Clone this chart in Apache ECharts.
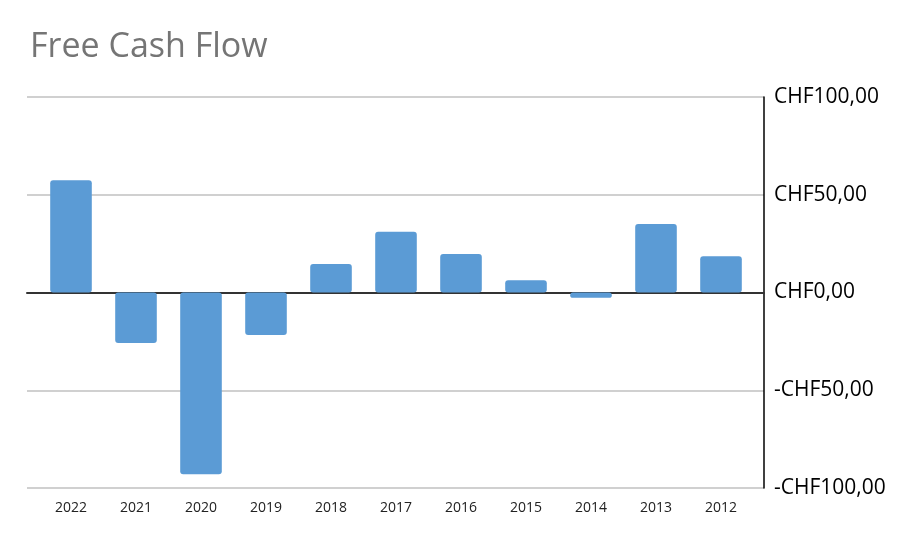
<!DOCTYPE html>
<html>
<head>
<meta charset="utf-8">
<script src="https://cdn.jsdelivr.net/npm/echarts@6/dist/echarts.min.js"></script>
<style>html,body{margin:0;padding:0;background:#fff}#c{width:916px;height:544px}</style>
</head>
<body>
<div id="c"></div>
<script>
const categories = ['2022','2021','2020','2019','2018','2017','2016','2015','2014','2013','2012'];
const freeCashFlow = [57.4, -25.8, -93.0, -21.7, 14.6, 31.1, 19.7, 6.3, -2.7, 35.0, 18.5];
const yTicks = [-100, -50, 0, 50, 100];
const titleText = 'Free Cash Flow';

function fmt(v){
  return (v < 0 ? '-' : '') + 'CHF' + Math.abs(v).toFixed(2).replace('.', ',');
}

const chart = echarts.init(document.getElementById('c'), null, {renderer:'canvas'});
chart.setOption({
  animation:false,
  backgroundColor:'#fff',
  title:{
    text:titleText, left:25, top:25,
    textStyle:{fontFamily:'Open Sans', fontSize:34, fontWeight:'normal', color:'#757575'}
  },
  grid:[
    {left:27, right:152, top:97, bottom:56},
    {left:38.5, right:162.5, top:97, bottom:56}
  ],
  xAxis:[
    {gridIndex:0, type:'value', min:0, max:1, show:true,
     axisLine:{show:true, onZero:true, lineStyle:{color:'#333', width:2}},
     axisTick:{show:false}, axisLabel:{show:false}, splitLine:{show:false}},
    {gridIndex:1, type:'category', data:categories, position:'bottom',
     axisLine:{show:false, onZero:false}, axisTick:{show:false},
     axisLabel:{fontFamily:'Open Sans', fontSize:14, color:'#222', margin:13}}
  ],
  yAxis:[
    {gridIndex:0, type:'value', position:'right', min:yTicks[0], max:yTicks[yTicks.length-1], interval:50,
     axisLine:{show:true, onZero:false, lineStyle:{color:'#000', width:1.5}},
     axisTick:{show:false},
     splitLine:{show:true, lineStyle:{color:'#d0d0d0', width:2}},
     axisLabel:{formatter:fmt, fontFamily:'Open Sans', fontSize:21, color:'#000', margin:10, padding:[4,0,0,0]}},
    {gridIndex:1, type:'value', min:yTicks[0], max:yTicks[yTicks.length-1], interval:50, show:false}
  ],
  series:[{
    type:'bar', xAxisIndex:1, yAxisIndex:1, data:freeCashFlow,
    barWidth:'64%', z:1,
    itemStyle:{color:'#5B9BD5', borderRadius:3}
  }]
});
</script>
</body>
</html>
